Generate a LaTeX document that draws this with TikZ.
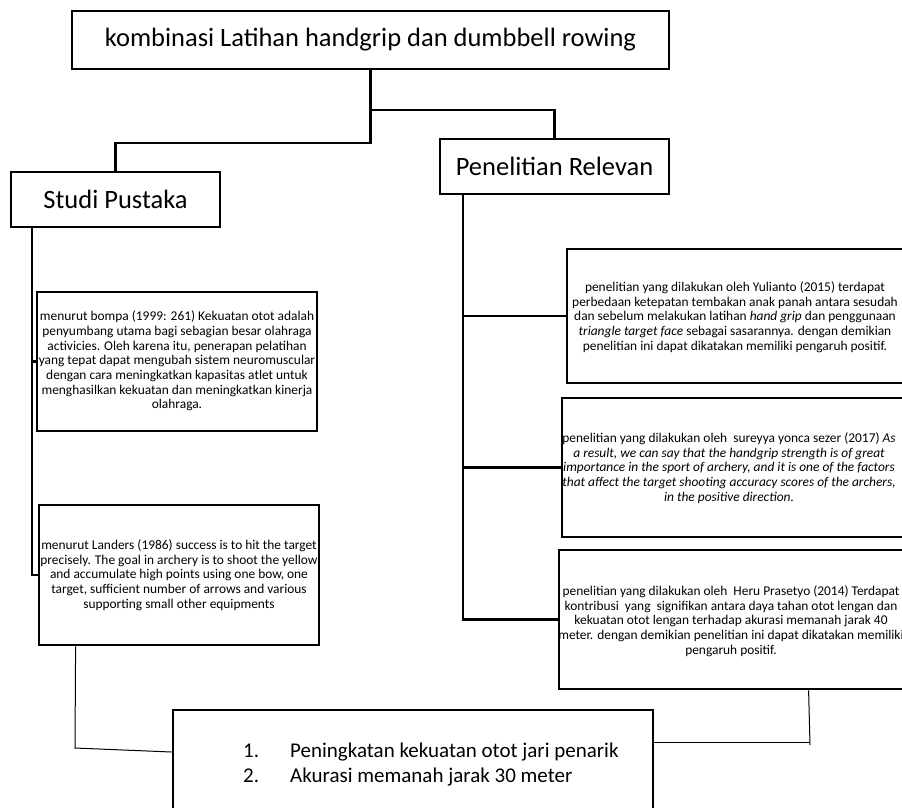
\documentclass[tikz,border=0pt]{standalone}
\usepackage{fontspec}
\setmainfont{Carlito}
\usetikzlibrary{calc}
\begin{document}
\begin{tikzpicture}[x=1pt,y=-1pt,
  box/.style={draw=black,line width=2.8pt,fill=white,inner sep=0pt,rectangle},
  big/.style={font=\fontsize{26.5}{32}\selectfont},
  small/.style={font=\fontsize{13.4}{14.7}\selectfont,align=center,inner sep=0pt},
  conn/.style={line width=2.6pt,line join=miter},
  thinconn/.style={line width=1pt},
  listtxt/.style={font=\fontsize{21}{25}\selectfont,anchor=base west,inner sep=0pt}]
\useasboundingbox (0,0) rectangle (902,807);
\clip (0,0) rectangle (902,807);
\fill[white] (0,0) rectangle (902,807);

% junction coordinates
\coordinate (j1) at (370.5,110);
\coordinate (j2) at (370.5,143);
\coordinate (s0) at (32,0);
\coordinate (p0) at (463,0);
\coordinate (c1) at (75,748);
\coordinate (c2) at (0,752);
\coordinate (c3) at (810,742);
\coordinate (c4) at (810,745);

% boxes
\node[box,minimum width=597pt,minimum height=58pt,big] (top) at (370.5,40) {kombinasi Latihan handgrip dan dumbbell rowing};
\node[box,minimum width=209pt,minimum height=55pt,big] (sp) at (115.5,199.5) {Studi Pustaka};
\node[box,minimum width=229pt,minimum height=55pt,big] (pr) at (554.5,166.5) {Penelitian Relevan};

\node[box,minimum width=280pt,minimum height=139pt] (bo) at (177,361.5) {};
\node[box,minimum width=280pt,minimum height=140pt] (la) at (179,575) {};
\node[box,minimum width=338pt,minimum height=134pt] (yu) at (736,316) {};
\node[box,minimum width=343pt,minimum height=139pt] (su) at (733.5,467.5) {};
\node[box,minimum width=346pt,minimum height=139pt] (he) at (732,619.5) {};
\node[box,minimum width=480pt,minimum height=120pt] (bt) at (413,770) {};

% texts
\node[small] (boT) at (177,361) {menurut bompa (1999: 261) Kekuatan otot adalah\\
penyumbang utama bagi sebagian besar olahraga\\
activicies. Oleh karena itu, penerapan pelatihan\\
yang tepat dapat mengubah sistem neuromuscular\\
dengan cara meningkatkan kapasitas atlet untuk\\
menghasilkan kekuatan dan meningkatkan kinerja\\
olahraga.};
\node[small] (laT) at (179,575) {menurut Landers (1986) success is to hit the target\\
precisely. The goal in archery is to shoot the yellow\\
and accumulate high points using one bow, one\\
target, sufficient number of arrows and various\\
supporting small other equipments};
\node[small] (yuT) at (735,317) {penelitian yang dilakukan oleh Yulianto (2015) terdapat\\
perbedaan ketepatan tembakan anak panah antara sesudah\\
dan sebelum melakukan latihan \textit{hand grip} dan penggunaan\\
\textit{triangle target face} sebagai sasarannya. dengan demikian\\
penelitian ini dapat dikatakan memiliki pengaruh positif.};
\node[small] (suT) at (729,468) {penelitian yang dilakukan oleh\ \ sureyya yonca sezer (2017) \textit{As}\\
\textit{a result, we can say that the handgrip strength is of great}\\
\textit{importance in the sport of archery, and it is one of the factors}\\
\textit{that affect the target shooting accuracy scores of the archers,}\\
\textit{in the positive direction.}};
\node[small] (heT) at (731,621) {penelitian yang dilakukan oleh\ \ Heru Prasetyo (2014) Terdapat\\
kontribusi\ \ yang\ \ signifikan antara daya tahan otot lengan dan\\
kekuatan otot lengan terhadap akurasi memanah jarak 40\\
meter. dengan demikian penelitian ini dapat dikatakan memiliki\\
pengaruh positif.};

\node[listtxt] (n1) at (243,757) {1.};
\node[listtxt] (l1) at (290,757) {Peningkatan kekuatan otot jari penarik};
\node[listtxt] (n2) at (243,782) {2.};
\node[listtxt] (l2) at (290,782) {Akurasi memanah jarak 30 meter};

% connectors
\draw[conn] (top.south) -- (j1) -| (pr.north);
\draw[conn] (j1) -- (j2) -| (sp.north);
\draw[conn] (sp.south -| s0) -- (s0 |- la.west) -- (la.west);
\draw[conn] (s0 |- bo.west) -- (bo.west);
\draw[conn] (pr.south -| p0) -- (p0 |- he.west) -- (he.west);
\draw[conn] (p0 |- yu.west) -- (yu.west);
\draw[conn] (p0 |- su.west) -- (su.west);
\draw[thinconn] ($(la.south west)+(38,0)$) -- (c1) -- (bt.west |- c2);
\draw[thinconn] ($(he.south west)+(251,0)$) -- (c4);
\draw[thinconn] (c3) -- (bt.east |- c3);
\end{tikzpicture}
\end{document}
